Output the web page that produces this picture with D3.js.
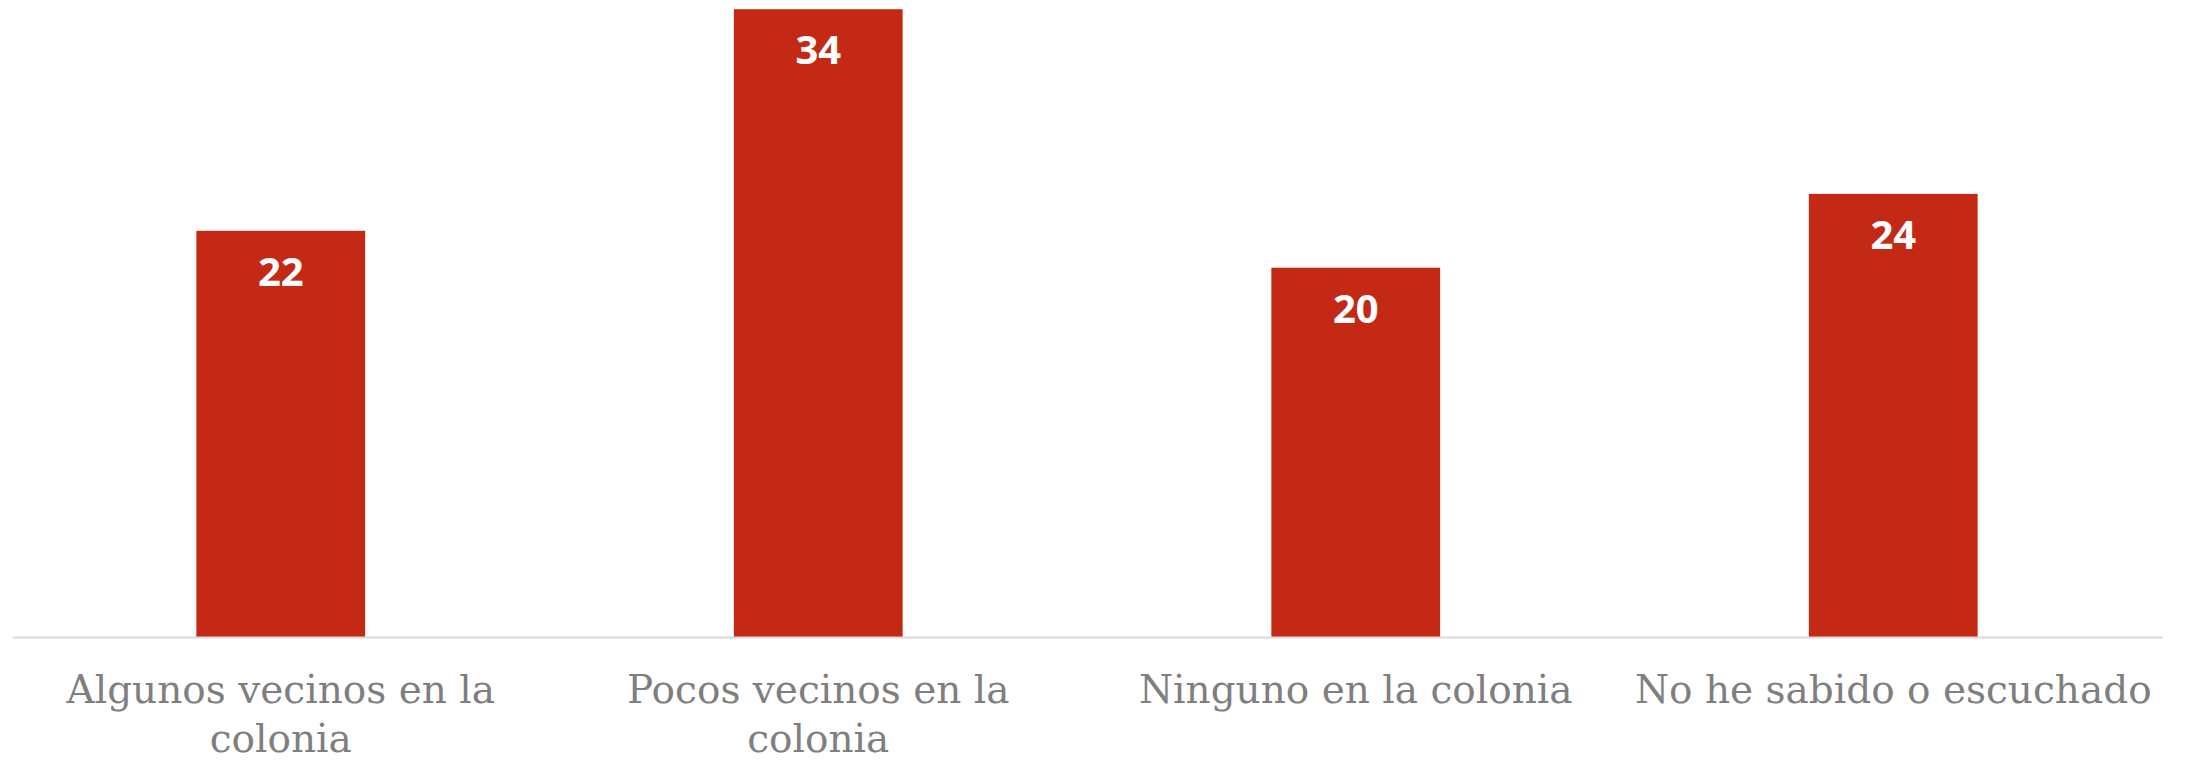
<!DOCTYPE html>
<html>
<head>
<meta charset="utf-8">
<script src="https://cdn.jsdelivr.net/npm/d3@7"></script>
<style>
  body { margin: 0; background: #fff; }
  svg { display: block; }
</style>
</head>
<body>
<div id="chart"></div>
<script>
var categories = ["algunos", "pocos", "ninguno", "nohe"];
var tickLabels = [
  ["Algunos vecinos en la", "colonia"],
  ["Pocos vecinos en la", "colonia"],
  ["Ninguno en la colonia"],
  ["No he sabido o escuchado"]
];
var values = [22, 34, 20, 24];

var width = 2186,
  height = 760,
  baseY = 637,
  barColor = "#c32914";

var svg = d3.select("#chart")
  .append("svg")
  .attr("width", width)
  .attr("height", height);

var x = d3.scaleBand()
  .domain(categories)
  .range([12, 2162])
  .paddingInner(0.686)
  .paddingOuter(0.343);

var y = d3.scaleLinear()
  .domain([0, 34.5])
  .range([baseY, 0]);

// bars
svg.selectAll("rect.bar")
  .data(values)
  .enter()
  .append("rect")
  .attr("class", "bar")
  .attr("x", function(d, i) { return x(categories[i]); })
  .attr("y", function(d) { return y(d); })
  .attr("width", x.bandwidth())
  .attr("height", function(d) { return baseY - y(d); })
  .attr("fill", barColor);

// value labels inside the top of each bar
svg.selectAll("text.value")
  .data(values)
  .enter()
  .append("text")
  .attr("class", "value")
  .attr("x", function(d, i) { return x(categories[i]) + x.bandwidth() / 2; })
  .attr("y", function(d) { return y(d) + 55; })
  .attr("text-anchor", "middle")
  .style("font-family", "'Open Sans', sans-serif")
  .style("font-weight", 700)
  .style("font-size", "40px")
  .style("fill", "#fff")
  .text(function(d) { return d; });

// category axis
var axis = svg.append("g")
  .attr("transform", "translate(0," + baseY + ")")
  .call(d3.axisBottom(x).tickSize(0).tickSizeOuter(0).tickFormat(""));

axis.select(".domain")
  .attr("stroke", "#d9d9d9")
  .attr("stroke-width", 2);

axis.selectAll(".tick text").remove();

axis.selectAll(".tick")
  .append("text")
  .attr("text-anchor", "middle")
  .style("font-family", "'DejaVu Serif', serif")
  .style("font-size", "39px")
  .style("fill", "#7f7f7f")
  .each(function(d, i) {
    var t = d3.select(this);
    tickLabels[i].forEach(function(line, k) {
      t.append("tspan")
        .attr("x", 0)
        .attr("y", 66 + k * 49)
        .text(line);
    });
  });
</script>
</body>
</html>
